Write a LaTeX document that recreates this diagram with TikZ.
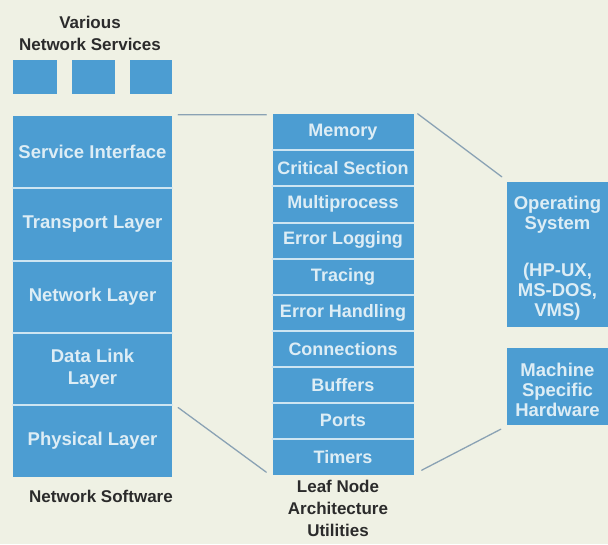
\documentclass[tikz,border=0pt]{standalone}
\usepackage{fontspec}
\setmainfont{Liberation Sans}
\definecolor{paper}{HTML}{EFF1E4}
\definecolor{boxblue}{HTML}{4C9DD2}
\definecolor{boxtext}{HTML}{DDEDF5}
\definecolor{sepcol}{HTML}{CDE5F2}
\definecolor{linkcol}{HTML}{8AA2B4}
\definecolor{inkcol}{HTML}{2B2B2B}
\newcommand{\lowstrut}{\rule{0pt}{20pt}}
\tikzset{
  blk/.style={fill=boxblue,text=boxtext,inner sep=0pt,align=center,font=\fontsize{18.5}{20}\selectfont\bfseries},
  lay/.style={blk,minimum width=159pt,minimum height=72.2pt},
  util/.style={blk,minimum width=141pt,minimum height=36.1pt,font=\fontsize{18}{20}\selectfont\bfseries},
  sysbox/.style={blk,minimum width=101pt},
  sepline/.style={sepcol,line width=2pt},
  link/.style={linkcol,line width=1.3pt},
  caption/.style={text=inkcol,align=center,inner sep=0pt,font=\fontsize{17}{22}\selectfont\bfseries}
}
\begin{document}
\begin{tikzpicture}[x=1pt,y=-1pt,line join=round,line cap=round]
	\fill[paper] (0,0) rectangle (608,544);
	\useasboundingbox (0,0) rectangle (608,544);
	% various services
	\node[caption] (vns) at (90,33) {Various\\Network Services};
	\fill[boxblue] (13,60) rectangle (57,94);
	\fill[boxblue] (72,60) rectangle (115,94);
	\fill[boxblue] (130,60) rectangle (172,94);
	% network software stack
	\node[lay] (si) at (92.5,152.1) {Service Interface};
	\node[lay] (tl) at (92.5,224.3) {Transport Layer};
	\node[lay] (nl) at (92.5,296.5) {Network Layer};
	\node[lay,font=\fontsize{18.5}{22}\selectfont\bfseries] (dl) at (92.5,368.7) {Data Link\\Layer};
	\node[lay] (pl) at (92.5,440.9) {Physical Layer};
	\draw[sepline] (si.south west)--(si.south east);
	\draw[sepline] (tl.south west)--(tl.south east);
	\draw[sepline] (nl.south west)--(nl.south east);
	\draw[sepline] (dl.south west)--(dl.south east);
	\node[caption] (ns) at (101,496) {Network Software};
	% utilities stack
	\node[util] (mem) at (343,132.05) {Memory};
	\node[util] (crit) at (343,168.15) {Critical Section};
	\node[util] (mp) at (343,204.25) {Multiprocess};
	\node[util] (elog) at (343,240.35) {Error Logging};
	\node[util] (trc) at (343,276.45) {Tracing};
	\node[util] (eh) at (343,312.55) {Error Handling};
	\node[util] (con) at (343,348.65) {Connections};
	\node[util] (buf) at (343,384.75) {Buffers};
	\node[util] (prt) at (343,420.85) {Ports};
	\node[util] (tim) at (343,456.95) {Timers};
	\foreach \n in {mem,crit,mp,elog,trc,eh,con,buf,prt}
		\draw[sepline] (\n.south west)--(\n.south east);
	\node[caption] (lna) at (338,508) {Leaf Node\\Architecture\\Utilities};
	% system boxes
	\node[sysbox,minimum height=145pt] (os) at (557.5,254.5) {\lowstrut Operating\\System\\[27pt](HP-UX,\\MS-DOS,\\VMS)};
	\node[sysbox,minimum height=77pt] (hw) at (557.5,386.5) {\lowstrut Machine\\Specific\\Hardware};
	% links
	\draw[link] ([xshift=6,yshift=1]si.north east)--([xshift=-6,yshift=-1]mem.north west);
	\draw[link] ([xshift=4]mem.north east)--([xshift=-5,yshift=5]os.north west);
	\draw[link] ([xshift=6,yshift=-3]pl.north east)--([xshift=-6,yshift=3]tim.south west);
	\draw[link] ([xshift=8,yshift=5]tim.south east)--([xshift=-6,yshift=-4]hw.south west);
\end{tikzpicture}
\end{document}
